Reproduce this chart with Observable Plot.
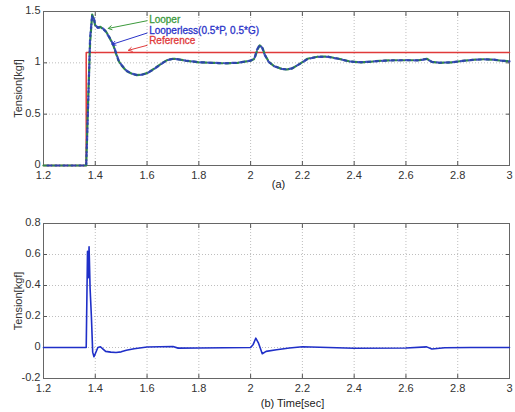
<!DOCTYPE html>
<html><head><meta charset="utf-8">
<script src="https://cdn.jsdelivr.net/npm/d3@7"></script>
<script src="https://cdn.jsdelivr.net/npm/@observablehq/plot@0.6"></script>
<style>
body{margin:0;background:#fff;}
#wrap{position:relative;width:515px;height:412px;font-family:"Liberation Sans",Arial,sans-serif;}
#a{position:absolute;left:0;top:0;}
#b{position:absolute;left:0;top:200px;}
</style></head><body>
<div id="wrap"><div id="a"></div><div id="b"></div></div>
<script>
// Top panel (a)
const timeA = [1.2,1.365,1.372,1.38,1.388,1.395,1.40,1.41,1.42,1.43,1.44,1.45,1.46,1.47,1.48,1.49,1.50,1.52,1.54,1.56,1.58,1.60,1.62,1.64,1.66,1.68,1.70,1.72,1.75,1.80,1.85,1.90,1.95,2.00,2.015,2.025,2.035,2.045,2.055,2.07,2.09,2.12,2.14,2.16,2.19,2.22,2.26,2.30,2.34,2.38,2.42,2.46,2.50,2.55,2.60,2.65,2.68,2.70,2.73,2.78,2.82,2.86,2.90,2.94,2.97,3.00];
const looper = [0,0,0.6,1.2,1.47,1.42,1.36,1.345,1.35,1.33,1.31,1.27,1.22,1.17,1.09,1.02,0.98,0.92,0.895,0.88,0.885,0.9,0.93,0.965,1.0,1.03,1.04,1.035,1.02,1.005,1.0,0.995,1.0,1.02,1.04,1.12,1.17,1.15,1.08,1.01,0.97,0.94,0.935,0.945,0.99,1.04,1.06,1.06,1.04,1.015,1.005,1.01,1.02,1.025,1.025,1.025,1.04,1.01,1.0,1.005,1.02,1.03,1.035,1.03,1.02,1.015];
const looperless = [0,0,0.55,1.25,1.46,1.43,1.37,1.34,1.345,1.335,1.305,1.265,1.225,1.175,1.1,1.025,0.985,0.925,0.895,0.882,0.884,0.898,0.928,0.962,0.998,1.028,1.038,1.034,1.021,1.006,1.0,0.996,1.001,1.021,1.045,1.13,1.175,1.145,1.075,1.008,0.968,0.941,0.936,0.946,0.99,1.038,1.059,1.058,1.039,1.014,1.006,1.011,1.019,1.024,1.026,1.024,1.038,1.009,1.001,1.006,1.019,1.029,1.034,1.031,1.021,1.014];
const refTime = [1.2,1.365,1.365,3.0];
const refValue = [0,0,1.1,1.1];
const xTicks = [1.2,1.4,1.6,1.8,2.0,2.2,2.4,2.6,2.8,3.0];
const yTicksA = [0,0.5,1,1.5];
const yTickLabelsA = ["0","0.5","1","1.5"];
const legendNames = ["Looper","Looperless(0.5*P, 0.5*G)","Reference"];
const legendColors = ["#3c9a3c","#2a33c8","#e03a3a"];
const legendTextX = [1.608,1.608,1.608];
const legendTextY = [1.42,1.31,1.21];
const arrowX1 = [1.60,1.60,1.60];
const arrowY1 = [1.41,1.29,1.17];
const arrowX2 = [1.45,1.465,1.528];
const arrowY2 = [1.335,1.18,1.122];
const captionA = "(a)";

// Bottom panel (b)
const timeB = [1.2,1.365,1.37,1.373,1.376,1.38,1.385,1.39,1.395,1.40,1.41,1.42,1.43,1.44,1.46,1.48,1.50,1.52,1.55,1.60,1.65,1.70,1.72,1.80,1.90,2.00,2.01,2.02,2.03,2.045,2.06,2.10,2.15,2.20,2.30,2.40,2.60,2.68,2.70,2.75,2.85,3.00];
const diffB = [0,0,0.62,0.45,0.65,0.38,0.2,-0.03,-0.06,-0.04,0.0,0.005,-0.01,-0.025,-0.03,-0.032,-0.028,-0.018,-0.008,0.003,0.005,0.006,-0.004,-0.003,-0.002,0.0,0.02,0.06,0.03,-0.04,-0.025,-0.015,-0.003,0.005,0.0,-0.005,-0.003,0.004,-0.01,-0.002,0.0,0.0];
const yTicksB = [-0.2,0,0.2,0.4,0.6,0.8];
const yTickLabelsB = ["-0.2","0","0.2","0.4","0.6","0.8"];
const captionB = "(b) Time[sec]";

const A = timeA.map((t,i)=>({t, looper: looper[i], looperless: looperless[i]}));
const R = refTime.map((t,i)=>({t, v: refValue[i]}));
const L = legendNames.map((n,i)=>({n, c: legendColors[i], x: legendTextX[i], y: legendTextY[i], x1: arrowX1[i], y1: arrowY1[i], x2: arrowX2[i], y2: arrowY2[i]}));
const B = timeB.map((t,i)=>({t, v: diffB[i]}));

const fmtX = d => d3.format("")(+d.toFixed(1));
const gridStyle = {stroke:"#888", strokeOpacity:0.55, strokeDasharray:"1,2"};
const common = (yTicks, yLabels, caption, capDx, capDy) => [
  Plot.gridX(xTicks, gridStyle),
  Plot.gridY(yTicks, gridStyle),
  Plot.axisX({ticks: xTicks, tickSize: 0, tickPadding: 6, tickFormat: fmtX, fontSize: 11, fill:"#333", label: null}),
  Plot.axisX({ticks: xTicks, tickSize: -4, text: null, label: null, stroke:"#555"}),
  Plot.axisX({ticks: xTicks, anchor:"top", tickSize: -4, text: null, label: null, stroke:"#555"}),
  Plot.axisY({ticks: yTicks, tickSize: 0, tickPadding: 3, dy: -1, tickFormat: (d,i)=>yLabels[i], fontSize: 11, fill:"#333", label: "Tension[kgf]", labelAnchor:"center", labelArrow:"none", labelOffset: 29}),
  Plot.axisY({ticks: yTicks, tickSize: -4, text: null, label: null, stroke:"#555"}),
  Plot.axisY({ticks: yTicks, anchor:"right", tickSize: -4, text: null, label: null, stroke:"#555"}),
  Plot.text([caption], {frameAnchor:"bottom", dx: capDx, dy: capDy, fontSize: 11, fill:"#222"}),
  Plot.frame({stroke:"#666"})
];

const pa = Plot.plot({
  width: 515, height: 200,
  marginLeft: 43, marginRight: 6, marginTop: 11, marginBottom: 35,
  style: {fontFamily: "'Liberation Sans', Arial, sans-serif", fontSize: "11px", background:"#fff"},
  x: {domain: [1.2, 3.0]},
  y: {domain: [0, 1.5]},
  marks: [
    ...common(yTicksA, yTickLabelsA, captionA, 2, 22),
    Plot.line(R, {x:"t", y:"v", stroke: legendColors[2], strokeWidth: 1.5}),
    Plot.line(A, {x:"t", y:"looper", stroke: "#2f8a4a", strokeWidth: 2.2, strokeDasharray:"5,3"}),
    Plot.line(A, {x:"t", y:"looperless", stroke: "#2b38b8", strokeWidth: 2.2, strokeDasharray:"4,4", strokeDashoffset: 4, strokeOpacity: 0.85}),
    Plot.arrow(L, {x1:"x1", y1:"y1", x2:"x2", y2:"y2", stroke: d=>d.c, strokeWidth: 1, headLength: 6, bend: 0}),
    Plot.text(L, {x:"x", y:"y", text:"n", fill: d=>d.c, stroke: d=>d.c, strokeWidth: 0.3, textAnchor:"start", fontSize: 10})
  ]
});
document.getElementById("a").appendChild(pa);

const pb = Plot.plot({
  width: 515, height: 212,
  marginLeft: 43, marginRight: 6, marginTop: 23, marginBottom: 34,
  style: {fontFamily: "'Liberation Sans', Arial, sans-serif", fontSize: "11px", background:"#fff"},
  x: {domain: [1.2, 3.0]},
  y: {domain: [-0.2, 0.8]},
  marks: [
    ...common(yTicksB, yTickLabelsB, captionB, 16, 28),
    Plot.line(B, {x:"t", y:"v", stroke: "#1f2fc8", strokeWidth: 1.6})
  ]
});
document.getElementById("b").appendChild(pb);
</script>
</body></html>
